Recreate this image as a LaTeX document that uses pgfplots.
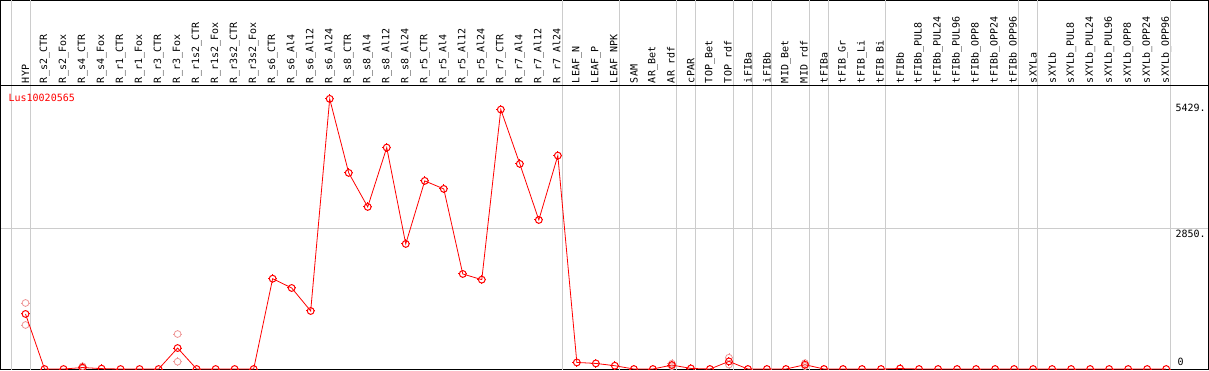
\documentclass[border=0pt]{standalone}
\usepackage{fontspec}
\setmainfont{DejaVu Sans Mono}
\setmonofont{DejaVu Sans Mono}
\usepackage{pgfplots}
\pgfplotsset{compat=1.18}
\pgfdeclareplotmark{gdcirc}{%
  \pgfpathcircle{\pgfpointorigin}{\pgfplotmarksize}%
  \pgfusepathqstroke
  \pgfpathmoveto{\pgfpoint{\pgfplotmarksize}{0pt}}\pgfpathlineto{\pgfpoint{1.3\pgfplotmarksize}{0pt}}%
  \pgfpathmoveto{\pgfpoint{-\pgfplotmarksize}{0pt}}\pgfpathlineto{\pgfpoint{-1.3\pgfplotmarksize}{0pt}}%
  \pgfpathmoveto{\pgfpoint{0pt}{\pgfplotmarksize}}\pgfpathlineto{\pgfpoint{0pt}{1.3\pgfplotmarksize}}%
  \pgfpathmoveto{\pgfpoint{0pt}{-\pgfplotmarksize}}\pgfpathlineto{\pgfpoint{0pt}{-1.3\pgfplotmarksize}}%
  \pgfusepathqstroke}
\pgfplotstableread{
x y
1 1120
2 0
3 0
4 30
5 8
6 0
7 0
8 0
9 427
10 0
11 0
12 0
13 0
14 1838
15 1649
16 1181
17 5496
18 3990
19 3298
20 4505
21 2545
22 3827
23 3664
24 1934
25 1818
26 5279
27 4173
28 3033
29 4342
30 134
31 114
32 67
33 0
34 0
35 81
36 12
37 0
38 155
39 0
40 0
41 0
42 88
43 0
44 0
45 0
46 0
47 10
48 0
49 0
50 0
51 0
52 0
53 0
54 0
55 0
56 0
57 0
58 0
59 0
60 0
61 0
}\mainT
\pgfplotstableread{
x y
1 1344
1 896
4 55
4 10
9 712
9 149
35 110
35 55
38 230
38 90
42 120
42 60
}\repT
\definecolor{pinkrep}{RGB}{238,150,150}
\begin{document}
\begin{tikzpicture}
\begin{axis}[
  scale only axis,
  width=1207pt, height=369pt,
  xmin=-0.316, xmax=63.21,
  ymin=-14, ymax=7497,
  axis line style={black, line width=1pt},
  font=\fontsize{10}{12}\selectfont,
  /pgf/number format/assume math mode=true,
  major tick length=0pt,
  xtick={1,...,61},
  xticklabels={HYP,R\_s2\_CTR,R\_s2\_Fox,R\_s4\_CTR,R\_s4\_Fox,R\_r1\_CTR,R\_r1\_Fox,R\_r3\_CTR,R\_r3\_Fox,R\_r1s2\_CTR,R\_r1s2\_Fox,R\_r3s2\_CTR,R\_r3s2\_Fox,R\_s6\_CTR,R\_s6\_Al4,R\_s6\_Al12,R\_s6\_Al24,R\_s8\_CTR,R\_s8\_Al4,R\_s8\_Al12,R\_s8\_Al24,R\_r5\_CTR,R\_r5\_Al4,R\_r5\_Al12,R\_r5\_Al24,R\_r7\_CTR,R\_r7\_Al4,R\_r7\_Al12,R\_r7\_Al24,LEAF\_N,LEAF\_P,LEAF\_NPK,SAM,AR\_Bet,AR\_rdf,cPAR,TOP\_Bet,TOP\_rdf,iFIBa,iFIBb,MID\_Bet,MID\_rdf,tFIBa,tFIB\_Gr,tFIB\_Li,tFIB\_Bi,tFIBb,tFIBb\_PUL8,tFIBb\_PUL24,tFIBb\_PUL96,tFIBb\_OPP8,tFIBb\_OPP24,tFIBb\_OPP96,sXYLa,sXYLb,sXYLb\_PUL8,sXYLb\_PUL24,sXYLb\_PUL96,sXYLb\_OPP8,sXYLb\_OPP24,sXYLb\_OPP96},
  xticklabel style={rotate=90, anchor=west, font=\fontsize{10}{12}\selectfont},
  xticklabel shift=-283pt,
  extra x ticks={0.25,1.25,29.25,32.25,35.25,36.25,38.25,39.25,40.25,42.25,43.25,46.25,53.25,54.25,61.25},
  extra x tick labels={},
  extra x tick style={grid=major},
  major grid style={gray!40, line width=1pt},
  ytick={2850},
  yticklabels={2850.},
  ymajorgrids=true,
  extra y ticks={5429},
  extra y tick labels={5429.},
  extra y tick style={grid=none},
  yticklabel pos=right,
  yticklabel style={anchor=north east, xshift=1pt, yshift=2pt},
  clip marker paths=true,
]
\addplot[only marks, mark=gdcirc, mark size=3.4pt, mark options={draw=pinkrep, line width=0.8pt}] table[x=x,y=y]{\repT};
\addplot[red, line width=0.8pt, mark=gdcirc, mark size=3.4pt, mark options={red, line width=1pt}] table[x=x,y=y]{\mainT};
\draw[black, line width=1pt] (axis cs:-0.316,5767) -- (axis cs:63.21,5767);
\node[anchor=west, red, inner sep=0pt] at (axis cs:0.1,5523) {Lus10020565};
\node[anchor=south east] at (axis cs:62.1,0) {0};
\end{axis}
\end{tikzpicture}
\end{document}
